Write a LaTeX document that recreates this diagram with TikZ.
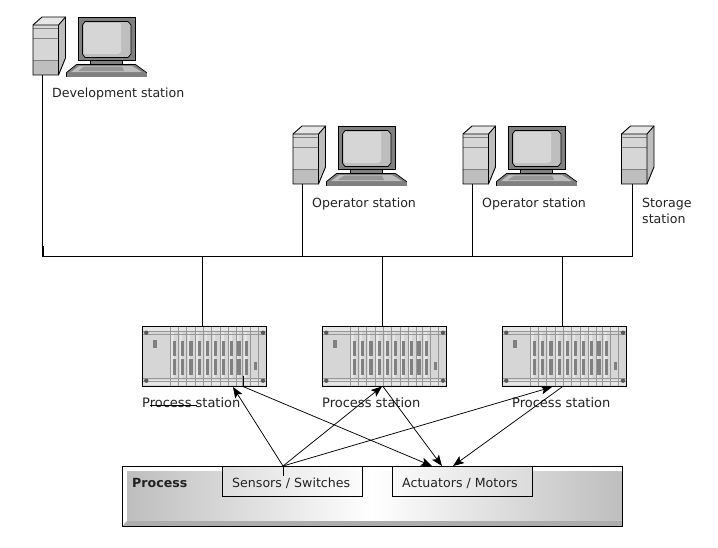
\documentclass[tikz,border=0pt]{standalone}
\usepackage{fontspec}
\setmainfont{DejaVu Sans}
\usetikzlibrary{arrows.meta}
\definecolor{ink}{HTML}{222222}
\definecolor{grA}{HTML}{BEBEBE}
\definecolor{grB}{HTML}{D6D6D6}
\definecolor{grC}{HTML}{808080}
\definecolor{grD}{HTML}{E6E6E6}
\definecolor{grE}{HTML}{979797}
\tikzset{
  lbl/.style={font=\fontsize{12.6pt}{16pt}\selectfont,text=ink,inner sep=0pt,anchor=base west,align=left},
  plbl/.style={lbl,font=\fontsize{13pt}{16pt}\selectfont},
  wire/.style={draw=black,line width=.8pt},
  sig/.style={draw=black,line width=.75pt,-{Stealth[length=11pt,width=8.5pt,inset=2.5pt]}},
  edge/.style={draw=black,line width=.9pt,line join=miter},
  subbox/.style={draw=black,line width=.8pt,minimum width=139.5pt,minimum height=30pt,inner sep=0pt},
  hook/.style={inner sep=0pt,minimum size=0pt,outer sep=0pt},
}
\newcommand{\towerdraw}[2]{%
 \begin{scope}[shift={(#1)}]
  \fill[grA] (58.5,25)--(65.5,17)--(65.5,58)--(58.5,75)--cycle;
  \fill[grD] (33,25)--(42,17)--(65.5,17)--(58.5,25)--cycle;
  \fill[grB] (33,25) rectangle (58.5,75);
  \fill[grA] (33,60.5) rectangle (58.5,75);
  \draw[grC,line width=1.4pt] (33,28.5)--(58.5,28.5);
  \draw[grC,line width=.7pt] (33,38)--(58.5,38) (33,60.5)--(58.5,60.5);
  \draw[edge] (33,25)--(42,17)--(65.5,17)--(65.5,58)--(58.5,75)--(33,75)--cycle;
  \draw[edge] (33,25)--(58.5,25)--(58.5,75) (58.5,25)--(65.5,17);
  \node[hook] (#2) at (42.5,75) {};
 \end{scope}}
\newcommand{\monitordraw}[1]{%
 \begin{scope}[shift={(#1)}]
  \fill[grC,draw=black,line width=.7pt] (78.5,17.5) rectangle (135,60);
  \fill[grA,draw=black,line width=.7pt] (85,21.5)--(128,21.5)--(131,25)--(131,54)--(128,57.5)--(85,57.5)--(82.5,54)--(82.5,25)--cycle;
  \fill[grB] (85,23)--(120,23)--(121,24)--(121,52)--(118,54)--(85,54)--(84,52)--(84,25)--cycle;
  \fill[grC,draw=black,line width=.5pt] (90,60) rectangle (122.5,64.5);
  \fill[grC,draw=black,line width=.7pt] (66.5,72.5)--(76.5,64.5)--(135.5,64.5)--(146.5,72.5)--(146.5,76.5)--(66.5,76.5)--cycle;
  \fill[grA] (71,72)--(79,66)--(132,66)--(142,72)--cycle;
  \fill[grE] (78,71)--(84,66.5)--(122,66.5)--(124,71)--cycle;
  \fill[grC] (66.5,73)rectangle(146.5,76.5);
 \end{scope}}
\newcommand{\rackdraw}[2]{%
 \begin{scope}[shift={(#1)}]
  \fill[grB] (142.5,326) rectangle (266.5,386);
  \fill[grD] (142.5,327) rectangle (266.5,331);
  \fill[grD] (142.5,380) rectangle (266.5,385);
  \foreach \px in {172.5,181,189,197.5,206,214,222.5,230.5,237.5,245.5}{
    \fill[grD] (\px-1.5,332) rectangle (\px+1,379);}
  \foreach \px in {170.7,178.7,186.7,195.3,203.3,211.3,220,228,236,242.7,250.7,258.3}{
    \draw[grE,line width=.6pt] (\px,326.5)--(\px,385.5);}
  \draw[grE,line width=.6pt] (142.5,331.5)--(266.5,331.5) (142.5,334)--(266.5,334) (142.5,378)--(266.5,378) (142.5,381)--(266.5,381);
  \foreach \px in {172.7,180.7,189.3,197.7,206,214,222,230,237.3,245}{
    \fill[grC] (\px,340.7) rectangle (\px+3.3,356);
    \fill[grC] (\px,359.3) rectangle (\px+3.3,375);}
  \fill[grC] (153.3,340) rectangle (156.7,348);
  \fill[grC] (254,362) rectangle (257,370);
  \foreach \px/\py in {146.3/332.7,263/332.7,146.3/380.7,263/380.7}{
    \fill[black!65] (\px,\py) circle (2.2pt);}
  \node[hook,draw=black,line width=.9pt,minimum width=124pt,minimum height=60pt] (#2) at (204.5,356) {};
 \end{scope}}
\begin{document}
\begin{tikzpicture}[x=1pt,y=-1pt]
\useasboundingbox (0,0) rectangle (718,547);
\fill[white] (0,0) rectangle (718,547);

% process block
\fill[white] (122.5,466.5) rectangle (622,526);
\shade[left color=grA,right color=white] (127,471) rectangle (372,521);
\shade[left color=white,right color=grA] (372,471) rectangle (622,521);
\fill[white] (618,471)--(622,466.5)--(622,471)--cycle;
\fill[black!32] (122.5,526)--(127,521)--(622,521)--(622,526)--cycle;
\node[hook,draw=black,line width=.9pt,minimum width=499.5pt,minimum height=59.5pt] (process) at (372.25,496.25) {};
\node[lbl,font=\fontsize{12.6pt}{16pt}\selectfont\bfseries] (proclbl) at (132,487) {Process};
\node[subbox,left color=white!50!grA,right color=white!96!grA] (sensors) at (292.5,481.5) {};
\node[subbox,left color=white!92!grA,right color=white!45!grA] (actuators) at (462.5,481.5) {};
\node[lbl] (senslbl) at (232,487) {Sensors / Switches};
\node[lbl] (actlbl) at (402,487) {Actuators / Motors};

% stations
\towerdraw{0,0}{dev}
\monitordraw{0,0}
\towerdraw{260,109}{op1}
\monitordraw{260,109}
\towerdraw{430,109}{op2}
\monitordraw{430,109}
\towerdraw{588.5,109}{store}
\node[lbl] (devlbl) at (52,97) {Development station};
\node[lbl] (op1lbl) at (312,207) {Operator station};
\node[lbl] (op2lbl) at (482,207) {Operator station};
\node[lbl] (storelbl) at (642,223) {Storage\\station};

% racks
\rackdraw{0,0}{rackA}
\rackdraw{180,0}{rackB}
\rackdraw{360,0}{rackC}
\node[plbl] (pA) at (142,407) {Process station};
\node[plbl] (pB) at (322,407) {Process station};
\node[plbl] (pC) at (512,407) {Process station};
\coordinate (ulA) at (150,405.5);
\coordinate (ulB) at (197,405.5);
\draw[black,line width=.7pt] (ulA)--(ulB);

% bus
\coordinate (busL) at (42.5,256.5);
\coordinate (busJog) at (43.5,246);
\coordinate (busJogEnd) at (43.5,256.5);
\coordinate (storeEnd) at ([xshift=1pt]store.center);
\coordinate (busR) at (storeEnd|-busL);
\coordinate (j1) at (op1|-busL);
\coordinate (j2) at (op2|-busL);
\coordinate (jA) at (rackA.north|-busL);
\coordinate (jB) at (rackB.north|-busL);
\coordinate (jC) at (rackC.north|-busL);
\draw[wire] (dev)--(busL)--(busR)--(storeEnd);
\draw[wire] (busJog)--(busJogEnd);
\draw[wire] (op1)--(j1);
\draw[wire] (op2)--(j2);
\draw[wire] ([xshift=-2pt]jA)--([xshift=-2pt]rackA.north);
\draw[wire] ([xshift=-2pt]jB)--([xshift=-2pt]rackB.north);
\draw[wire] ([xshift=-2pt]jC)--([xshift=-2pt]rackC.north);

% signal lines
\coordinate (sHub) at (283,466);
\coordinate (sTick) at (283,476);
\coordinate (aA) at (243,376);
\coordinate (aA2) at (243,386.5);
\coordinate (aB) at (383,386.5);
\coordinate (aC) at (562,387);
\coordinate (tA) at (233,387);
\coordinate (tB) at (382,386.5);
\coordinate (tC) at (552,387);
\coordinate (tAct1) at (432,466);
\coordinate (tAct2) at (442,466);
\coordinate (tAct3) at (453,466);
\draw[black,line width=.65pt] (sTick)--(sHub);
\draw[black,line width=.65pt] (aA)--(aA2);
\draw[sig] (sHub)--(tA);
\draw[sig] (sHub)--(tB);
\draw[sig] (sHub)--(tC);
\draw[sig] (aA2)--(tAct1);
\draw[sig] (aB)--(tAct2);
\draw[sig] (aC)--(tAct3);
\end{tikzpicture}
\end{document}
